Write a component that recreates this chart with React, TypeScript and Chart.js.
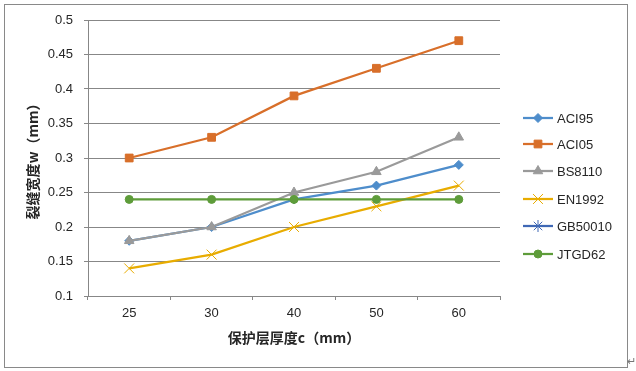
import React, { useEffect, useRef } from "react";
import { Chart, registerables } from "chart.js";

Chart.register(...registerables);

const categories = ["25", "30", "40", "50", "60"];
const seriesNames = ["ACI95", "ACI05", "BS8110", "EN1992", "GB50010", "JTGD62"];
const aci95 = [0.18, 0.2, 0.24, 0.26, 0.29];
const aci05 = [0.3, 0.33, 0.39, 0.43, 0.47];
const bs8110 = [0.18, 0.2, 0.25, 0.28, 0.33];
const en1992 = [0.14, 0.16, 0.2, 0.23, 0.26];
const gb50010: (number | null)[] = [null, null, null, null, null];
const jtgd62 = [0.24, 0.24, 0.24, 0.24, 0.24];
const yTicks = [0.1, 0.15, 0.2, 0.25, 0.3, 0.35, 0.4, 0.45, 0.5];

const colors = ["#4E8DCB", "#D86F2A", "#9A9A9A", "#E8AC00", "#3F68B5", "#5E9C3A"];
const pointStyles = ["rectRot", "rect", "triangle", "crossRot", "star", "circle"];
const pointRadii = [4.5, 5.5, 5.5, 7, 6, 4];

const FONT = "'Liberation Sans', Arial, sans-serif";
const CJK = "'Noto Sans CJK SC', sans-serif";

function drawMarker(ctx: CanvasRenderingContext2D, style: string, r: number, x: number, y: number) {
  ctx.beginPath();
  const s = Math.SQRT1_2 * r;
  switch (style) {
    case "rectRot":
      ctx.moveTo(x, y - r); ctx.lineTo(x + r, y); ctx.lineTo(x, y + r); ctx.lineTo(x - r, y); ctx.closePath();
      ctx.fill(); ctx.stroke(); break;
    case "rect":
      ctx.rect(x - s, y - s, 2 * s, 2 * s); ctx.fill(); ctx.stroke(); break;
    case "triangle":
      ctx.moveTo(x, y - r); ctx.lineTo(x + r * 0.866, y + r * 0.5); ctx.lineTo(x - r * 0.866, y + r * 0.5); ctx.closePath();
      ctx.fill(); ctx.stroke(); break;
    case "crossRot":
      ctx.moveTo(x - s, y - s); ctx.lineTo(x + s, y + s); ctx.moveTo(x - s, y + s); ctx.lineTo(x + s, y - s); ctx.stroke(); break;
    case "star":
      ctx.moveTo(x - s, y - s); ctx.lineTo(x + s, y + s); ctx.moveTo(x - s, y + s); ctx.lineTo(x + s, y - s);
      ctx.moveTo(x, y - r); ctx.lineTo(x, y + r); ctx.stroke(); break;
    case "circle":
      ctx.arc(x, y, r, 0, Math.PI * 2); ctx.fill(); ctx.stroke(); break;
  }
}

const decorPlugin = {
  id: "decor",
  afterDraw(chart: any) {
    const ctx = chart.ctx;
    ctx.save();
    ctx.strokeStyle = "#898989";
    ctx.lineWidth = 1;
    ctx.strokeRect(4.5, 4.5, 623, 363);
    ctx.fillStyle = "#262626";
    ctx.font = `bold 14px ${CJK}`;
    ctx.textAlign = "center";
    ctx.textBaseline = "middle";
    const ca = chart.chartArea;
    ctx.fillText("保护层厚度c（mm）", (ca.left + ca.right) / 2, 338);
    ctx.save();
    ctx.translate(33, (ca.top + ca.bottom) / 2);
    ctx.rotate(-Math.PI / 2);
    ctx.fillText("裂缝宽度w（mm）", 0, 0);
    ctx.restore();
    const ys = [118, 144, 171, 199, 226, 254];
    chart.data.datasets.forEach((ds: any, i: number) => {
      const y = ys[i];
      ctx.strokeStyle = ds.borderColor;
      ctx.lineWidth = 2.25;
      ctx.beginPath();
      ctx.moveTo(523, y);
      ctx.lineTo(553, y);
      ctx.stroke();
      ctx.fillStyle = ds.pointBackgroundColor;
      ctx.strokeStyle = ds.pointBorderColor;
      ctx.lineWidth = 1;
      drawMarker(ctx, ds.pointStyle, ds.pointRadius, 538, y);
      ctx.fillStyle = "#262626";
      ctx.font = `13px ${FONT}`;
      ctx.textAlign = "left";
      ctx.textBaseline = "middle";
      ctx.fillText(ds.label, 557, y + 1);
    });
    ctx.fillStyle = "#777";
    ctx.font = `11px ${FONT}`;
    ctx.textAlign = "left";
    ctx.fillText("↵", 627, 362);
    ctx.restore();
  },
};

export default function App() {
  const ref = useRef<HTMLCanvasElement>(null);
  useEffect(() => {
    const seriesData = [aci95, aci05, bs8110, en1992, gb50010, jtgd62];
    const datasets = seriesData.map((d, i) => ({
      label: seriesNames[i],
      data: d,
      borderColor: colors[i],
      backgroundColor: colors[i],
      pointBackgroundColor: colors[i],
      pointBorderColor: colors[i],
      pointStyle: pointStyles[i],
      pointRadius: pointRadii[i],
      pointBorderWidth: 1,
      borderWidth: 2.25,
      order: seriesData.length - i,
      spanGaps: false,
    }));
    const chart = new Chart(ref.current!, {
      type: "line",
      data: { labels: categories, datasets },
      options: {
        animation: false,
        responsive: false,
        devicePixelRatio: 1,
        layout: { padding: { left: 0, top: 20, right: 136, bottom: 0 } },
        plugins: { legend: { display: false }, tooltip: { enabled: false } },
        scales: {
          x: {
            offset: true,
            grid: { drawOnChartArea: false, drawTicks: true, tickLength: 4, color: "#878787", offset: true },
            border: { color: "#878787" },
            ticks: { color: "#262626", font: { size: 13, family: FONT }, padding: 6 },
            afterFit: (s: any) => { s.height = 75; },
          },
          y: {
            min: 0.1,
            max: 0.5,
            afterBuildTicks: (s: any) => { s.ticks = yTicks.map((v) => ({ value: v })); },
            grid: { color: "#878787", tickLength: 4, drawTicks: true },
            border: { color: "#878787" },
            ticks: { color: "#262626", font: { size: 13, family: FONT }, padding: 11, callback: (v: any) => String(Number(v)) },
            afterFit: (s: any) => { s.width = 88; },
          },
        },
      },
      plugins: [decorPlugin],
    });
    return () => chart.destroy();
  }, []);
  return (
    <div style={{ position: "absolute", left: 0, top: 0, width: 636, height: 371, background: "#fff" }}>
      <canvas ref={ref} width={636} height={371} style={{ width: 636, height: 371, display: "block" }} />
    </div>
  );
}
